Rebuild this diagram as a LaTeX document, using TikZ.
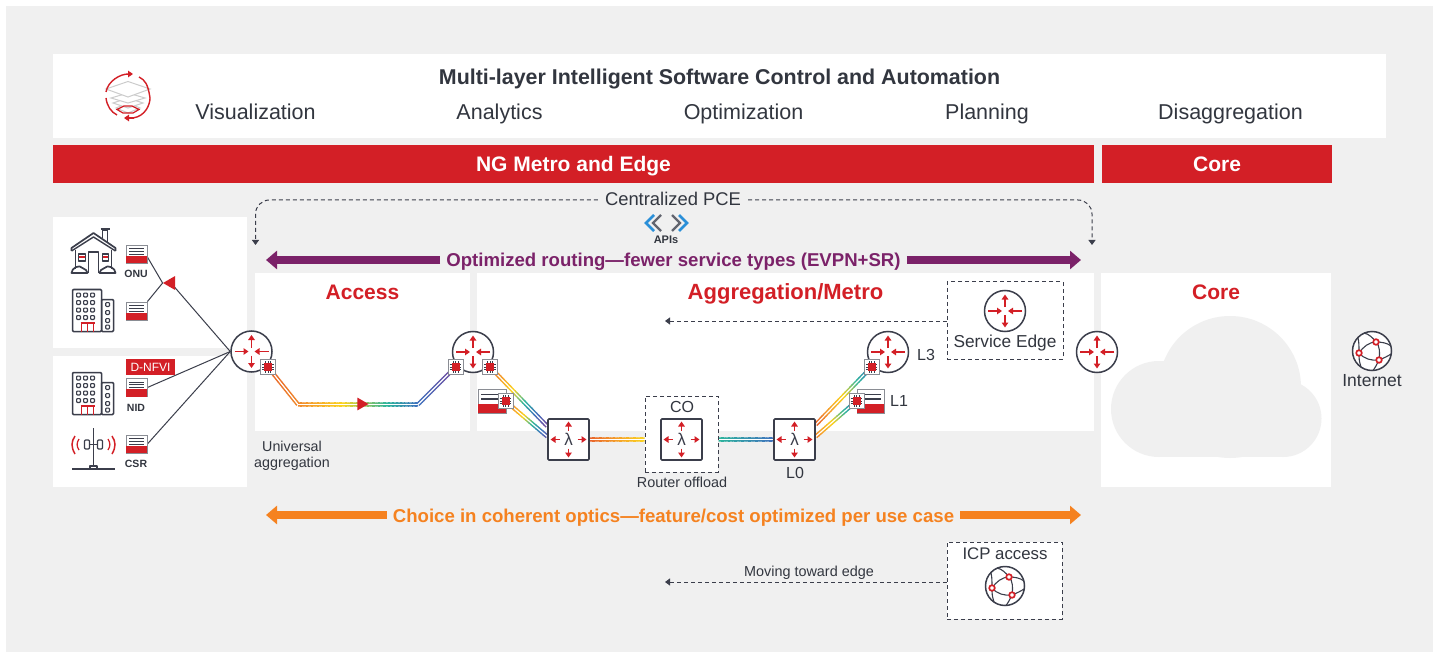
\documentclass[tikz,border=0pt]{standalone}
\usepackage{fontspec}
\setmainfont{Liberation Sans}
\usetikzlibrary{arrows.meta,calc,shapes.geometric}
\definecolor{bgG}{HTML}{F0F0F0}
\definecolor{redC}{HTML}{D31F26}
\definecolor{darkC}{HTML}{3B3E4B}
\definecolor{txtC}{HTML}{32363F}
\definecolor{purpC}{HTML}{7B2269}
\definecolor{orC}{HTML}{F58220}
\definecolor{bluC}{HTML}{2A8FD8}
\definecolor{cardG}{HTML}{8A8D94}
\definecolor{rb0}{HTML}{E8622A}
\definecolor{rb1}{HTML}{F5A02A}
\definecolor{rb2}{HTML}{FBD31E}
\definecolor{rb3}{HTML}{2DB59C}
\definecolor{rb4}{HTML}{3F72BE}
\definecolor{rb5}{HTML}{74489E}
\definecolor{rb6}{HTML}{74489E}
\pgfdeclarelayer{panel}\pgfdeclarelayer{wire}
\pgfsetlayers{panel,wire,main}
\tikzset{
 panelbox/.style={fill=white,draw=none,inner sep=0,rectangle},
 redbar/.style={fill=redC,draw=none,inner sep=0},
 routerc/.style={circle,draw=darkC,line width=1.5,fill=white,minimum size=41,inner sep=0},
 lambox/.style={rectangle,rounded corners=1,draw=darkC,line width=1.6,fill=white,minimum size=41,inner sep=0,font=\fontsize{17}{20}\selectfont,text=darkC},
 chipbox/.style={rectangle,draw=cardG,line width=1,fill=white,minimum size=15,inner sep=0},
 cardbox/.style={rectangle,draw=cardG,line width=0.8,fill=white,inner sep=0},
 dashbox/.style={rectangle,draw=darkC,line width=1,dash pattern=on 4pt off 3pt,fill=white,inner sep=0},
 lbl/.style={text=txtC,inner sep=0,align=center},
 lblb/.style={text=txtC,inner sep=0,anchor=base},
 rarrow/.style={redC,line width=1.8,-{Triangle[length=5,width=6.5]}},
 thin wire/.style={darkC,line width=1},
 dasharrow/.style={darkC,line width=1,dash pattern=on 4pt off 3pt,-{Triangle[length=5,width=7]}},
 fatarrow/.style={line width=8,-{Triangle[length=11,width=18]}},
 ic/.style={darkC,line width=1.3,line join=round},
}
\newcommand{\routerat}[3]{%
 \node[routerc] (#1) at (#2,#3) {};
 \begin{scope}[shift={(#2,#3)}]
  \draw[rarrow] (0,-4)--(0,-16.5); \draw[rarrow] (0,4)--(0,16.5);
  \draw[rarrow] (-17,0)--(-3,0); \draw[rarrow] (17,0)--(3,0);
 \end{scope}}
\newcommand{\lamat}[3]{%
 \node[lambox] (#1) at (#2,#3) {λ};
 \begin{scope}[shift={(#2,#3)}]
  \draw[rarrow] (0,-9)--(0,-18); \draw[rarrow] (0,9)--(0,18);
  \draw[rarrow] (-9,0)--(-18,0); \draw[rarrow] (9,0)--(18,0);
 \end{scope}}
\newcommand{\chipat}[3]{%
 \node[chipbox] (#1) at (#2,#3) {};
 \begin{scope}[shift={(#2,#3)}]
  \foreach \k in {-2.6,0,2.6}{
   \draw[darkC,line width=0.6] (-5.8,\k)--(5.8,\k);
   \draw[darkC,line width=0.6] (\k,-5.8)--(\k,5.8);}
  \fill[redC] (-4,-4) rectangle (4,4);
 \end{scope}}
\newcommand{\cardat}[5]{%
 \node[cardbox,minimum width=#4,minimum height=#5] (#1) at (#2,#3) {};
 \begin{scope}[shift={(#2,#3)}]
  \fill[redC] (-#4/2,0.1*#5) rectangle (#4/2,#5/2);
  \draw[darkC,line width=0.8] (-#4/2+3,-#5/2+3.5)--(#4/2-3,-#5/2+3.5);
  \draw[darkC,line width=0.8] (-#4/2+3,-#5/2+6.2)--(#4/2-3,-#5/2+6.2);
  \draw[darkC,line width=0.8] (-#4/2+3,-#5/2+9)--(#4/2-3,-#5/2+9);
 \end{scope}}
\newcommand{\bigcardat}[5]{%
 \node[cardbox,line width=1,minimum width=#4,minimum height=#5] (#1) at (#2,#3) {};
 \begin{scope}[shift={(#2,#3)}]
  \fill[redC] (-#4/2,0.13*#5) rectangle (#4/2,#5/2);
  \draw[darkC,line width=1.5] (-#4/2+3,-#5/2+5.5)--(#4/2-3,-#5/2+5.5);
  \draw[darkC,line width=1.5] (-#4/2+3,-#5/2+10)--(#4/2-3,-#5/2+10);
 \end{scope}}
\newcommand{\bldgat}[2]{%
 \begin{scope}[shift={(#1,#2)}]
  \draw[ic,line width=1.5,rounded corners=1] (0,0) rectangle (29,42);
  \draw[ic,line width=1.5,rounded corners=1] (29,10) rectangle (41,42);
  \foreach \yy in {5.5,13,20.5,28}{\foreach \xx in {6,13,20}{
    \draw[ic,line width=1.2,rounded corners=0.8] (\xx-1.9,\yy-1.9) rectangle (\xx+1.9,\yy+1.9);}}
  \foreach \yy in {15,23,31,37.5}{\draw[ic,line width=1.2,rounded corners=0.8] (33.2,\yy-1.9) rectangle (37,\yy+1.9);}
  \draw[redC,line width=1.2] (8,33.5)--(22,33.5);
  \foreach \xx in {9,15,21}{\draw[redC,line width=1.2] (\xx,33.5)--(\xx,42);}
 \end{scope}}
\newcommand{\globeat}[3]{%
 \node[circle,draw=darkC,line width=1.5,fill=white,minimum size=39,inner sep=0] (#1) at (#2,#3) {};
 \begin{scope}[shift={(#2,#3)}]
  \draw[ic,line width=1.1] (4,-9) .. controls (-3,-9) and (-9,-4) .. (-13,2);
  \draw[ic,line width=1.1] (-13,2) .. controls (-8,8) and (0,10) .. (7,9);
  \draw[ic,line width=1.1] (4,-9) .. controls (8,-5) and (8,2) .. (7,9);
  \draw[ic,line width=1.1] (4,-9) .. controls (10,-9) and (15,-8) .. (19,-5);
  \draw[ic,line width=1.1] (4,-9) .. controls (1,-13) and (-3,-17) .. (-8,-18);
  \draw[ic,line width=1.1] (-13,2) .. controls (-13,-5) and (-13,-9) .. (-14,-13);
  \draw[ic,line width=1.1] (-13,2) .. controls (-13,7) and (-13,10) .. (-11,16);
  \draw[ic,line width=1.1] (7,9) .. controls (12,7) and (16,5) .. (19,3);
  \draw[ic,line width=1.1] (7,9) .. controls (5,13) and (3,17) .. (1,19.5);
  \foreach \p in {(4,-9),(-13,2),(7,9)}{\draw[redC,fill=white,line width=1.7] \p circle [radius=2.8];}
 \end{scope}}
% rainbow double wire: from, to, start stop, end stop (stops 0..5)
\newcommand{\rbline}[4]{%
 \begin{pgfonlayer}{wire}
 \foreach \i in {0,...,23}{
  \pgfmathsetmacro\ha{\i/24}
  \pgfmathsetmacro\hb{min(1,(\i+1.25)/24)}
  \pgfmathsetmacro\hh{#3+(#4-#3)*(\i+.5)/24}
  \pgfmathtruncatemacro\ka{floor(\hh)}
  \pgfmathtruncatemacro\kb{\ka+1}
  \pgfmathsetmacro\fr{100*(\ka+1-\hh)}
  \colorlet{rbc}{rb\ka!\fr!rb\kb}
  \draw[rbc,line width=4.2] ($(#1)!\ha!(#2)$) -- ($(#1)!\hb!(#2)$);
 }
 \draw[white,line width=1.2] (#1)--(#2);
 \end{pgfonlayer}}
\begin{document}
\begin{tikzpicture}[x=1pt,y=-1pt]
\useasboundingbox (0,0) rectangle (1437,652);
\begin{pgfonlayer}{panel}
\fill[bgG] (6,6) rectangle (1433,652);
\node[panelbox,minimum width=1333,minimum height=84] (top) at (719.5,96) {};
\node[panelbox,minimum width=194,minimum height=131] (p1) at (150,282.5) {};
\node[panelbox,minimum width=194,minimum height=131] (p2) at (150,421.5) {};
\node[panelbox,minimum width=215,minimum height=158] (access) at (362.5,352) {};
\node[panelbox,minimum width=617,minimum height=158] (agg) at (785.5,352) {};
\node[panelbox,minimum width=230,minimum height=214] (corep) at (1216,380) {};
% cloud
\fill[bgG] (1159,409) circle [radius=48];
\fill[bgG] (1230,387) circle [radius=71];
\fill[bgG] (1283,418.5) circle [radius=38.5];
\fill[bgG] (1159,395) rectangle (1283,457);
\end{pgfonlayer}
% top band
\node[redbar,minimum width=1041,minimum height=38] (metrobar) at (573.5,164) {};
\node[lblb,text=white,font=\fontsize{21}{25}\selectfont\bfseries] (metrot) at (573.5,172) {NG Metro and Edge};
\node[redbar,minimum width=230,minimum height=38] (corebar) at (1217,164) {};
\node[lblb,text=white,font=\fontsize{21}{25}\selectfont\bfseries] (coret) at (1217,172) {Core};
\node[lblb,font=\fontsize{21.4}{25}\selectfont\bfseries] (title) at (719.5,85) {Multi-layer Intelligent Software Control and Automation};
\foreach \nm/\xx/\tx in {v/255.5/Visualization,an/499.5/Analytics,op/743.5/Optimization,pl/987/Planning,di/1230.5/Disaggregation}{
 \node[lblb,font=\fontsize{21.5}{25}\selectfont] (\nm) at (\xx,120) {\tx};}
% top icon
\node[circle,minimum size=44,inner sep=0] (topicon) at (128,96) {};
\begin{scope}[shift={(128,96)}]
 \foreach \yy/\w in {12/12,7/15,2/17}{\draw[gray!40,line width=1,fill=white] (-\w,\yy) -- (0,\yy-5) -- (\w,\yy) -- (0,\yy+5) -- cycle;}
 \draw[gray!40,line width=1,fill=white] (-22,-7) -- (0,-14.5) -- (22,-7) -- (0,1) -- cycle;
 \draw[redC,line width=1.2] (-11,13.5) -- (-4,10) -- (4,10) -- (11,13.5) -- (5,17) -- (-5,17) -- cycle;
\end{scope}
\draw[redC,line width=1.4,-{Triangle[length=5,width=6.5]}] (106,92) .. controls (108,81) and (120,74) .. (133,74);
\draw[redC,line width=1.4] (139,77) .. controls (145,80) and (148,84) .. (150,98) .. controls (150,104) and (146,116) .. (133,118);
\draw[redC,line width=1.4,-{Triangle[length=5,width=6.5]}] (134,118) -- (124,118);
\draw[redC,line width=1.4] (117,115) .. controls (111,112) and (107,106) .. (106,98);
% PCE
\node[lblb,font=\fontsize{18.4}{22}\selectfont] (pce) at (673,206) {Centralized PCE};
\coordinate (pceL) at (255.5,245); \coordinate (pceLc) at (255.5,200);
\coordinate (pceR) at (1092,245); \coordinate (pceRc) at (1092,200);
\draw[dasharrow,rounded corners=14] ([xshift=-7]pce.west |- pceLc) -- (pceLc) -- (pceL);
\draw[dasharrow,rounded corners=14] ([xshift=7]pce.east |- pceRc) -- (pceRc) -- (pceR);
% APIs
\coordinate (chevL) at (654,223); \coordinate (chevR) at (679,223);
\draw[bluC,line width=2.6] ($(chevL)+(0,-8)$) -- ($(chevL)+(-8,0)$) -- ($(chevL)+(0,8)$);
\draw[darkC!80,line width=2.4] ($(chevL)+(7,-8)$) -- ($(chevL)+(-1,0)$) -- ($(chevL)+(7,8)$);
\draw[darkC!80,line width=2.4] ($(chevR)+(-7,-8)$) -- ($(chevR)+(1,0)$) -- ($(chevR)+(-7,8)$);
\draw[bluC,line width=2.6] ($(chevR)+(0,-8)$) -- ($(chevR)+(8,0)$) -- ($(chevR)+(0,8)$);
\node[lblb,font=\fontsize{11}{13}\selectfont\bfseries] (apis) at (666,244) {APIs};
% purple arrow
\node[lblb,text=purpC,font=\fontsize{18.6}{22}\selectfont\bfseries] (opt) at (673.5,266) {Optimized routing—fewer service types (EVPN+SR)};
\coordinate (pL) at (266,260); \coordinate (pR) at (1081,260);
\draw[purpC,fatarrow] (opt.west |- pL) ++(-6,0) -- (pL);
\draw[purpC,fatarrow] (opt.east |- pR) ++(6,0) -- (pR);
% orange arrow
\node[lblb,text=orC,font=\fontsize{18.6}{22}\selectfont\bfseries] (coh) at (673.5,522) {Choice in coherent optics—feature/cost optimized per use case};
\coordinate (oL) at (266,515); \coordinate (oR) at (1081,515);
\draw[orC,fatarrow] (coh.west |- oL) ++(-6,0) -- (oL);
\draw[orC,fatarrow] (coh.east |- oR) ++(6,0) -- (oR);
% titles
\node[lblb,text=redC,font=\fontsize{21}{25}\selectfont\bfseries] (t1) at (362.5,299) {Access};
\node[lblb,text=redC,font=\fontsize{22}{25}\selectfont\bfseries] (t2) at (785.5,299) {Aggregation/Metro};
\node[lblb,text=redC,font=\fontsize{21}{25}\selectfont\bfseries] (t3) at (1216,299) {Core};
% routers etc.
\routerat{r1}{251.5}{351.5}
\routerat{r2}{473}{352}
\routerat{r3}{888}{352}
\routerat{r4}{1097}{352}
\chipat{c1}{268}{367}
\chipat{c2}{455.5}{367}
\chipat{c3}{490}{367}
\chipat{c5}{871.5}{367}
\bigcardat{cd1}{492}{401}{28}{24}
\chipat{c4}{505.5}{401}
\bigcardat{cd2}{870.5}{401}{27}{24}
\chipat{c6}{856.5}{401}
\lamat{l1}{568.5}{439.5}
\node[dashbox,minimum width=73,minimum height=76] (co) at (681.5,434) {};
\lamat{l2}{681.5}{439.5}
\lamat{l3}{794.5}{439.5}
\node[lblb,font=\fontsize{16}{19}\selectfont] (cot) at (682,412) {CO};
\node[lblb,font=\fontsize{14.4}{17}\selectfont] (rof) at (682,487) {Router offload};
\node[lblb,font=\fontsize{16}{19}\selectfont] (l0t) at (795,478.5) {L0};
\node[lblb,font=\fontsize{16}{19}\selectfont] (l3t) at (926,360) {L3};
\node[lblb,font=\fontsize{16}{19}\selectfont] (l1t) at (899,406) {L1};
\node[lbl,font=\fontsize{14.3}{16.5}\selectfont] (ua) at (292,456) {Universal\\aggregation};
% rainbow wires
\coordinate (b1) at (298,404.5); \coordinate (b2) at (418,404.5);
\coordinate (m1) at (343,404.5); \coordinate (m2) at (387,404.5);
\rbline{c1.center}{b1}{0}{0.6}
\rbline{b1}{m1}{0.6}{2}
\rbline{m1}{m2}{2}{3}
\rbline{m2}{b2}{3}{4}
\rbline{b2}{c2.center}{4}{5}
\rbline{c3.center}{l1.148}{0}{5}
\rbline{c4.center}{l1.172}{0}{4.6}
\rbline{l1.0}{co.west |- l1.0}{0}{2}
\rbline{co.east |- l2.0}{l3.180}{3}{4}
\rbline{l3.35}{c5.center}{0}{4}
\rbline{l3.8}{c6.center}{0.6}{4}
\node[regular polygon,regular polygon sides=3,shape border rotate=-90,fill=redC,inner sep=0,minimum size=15] (tri2) at (361,404) {};
% service edge
\node[dashbox,minimum width=116,minimum height=77] (se) at (1005,320.5) {};
\routerat{r5}{1005}{311}
\node[lblb,font=\fontsize{17.3}{20}\selectfont] (set) at (1005,347) {Service Edge};
\coordinate (seE) at (665,321);
\draw[dasharrow] (se.west |- seE) -- (seE);
% ICP
\node[dashbox,minimum width=115,minimum height=77] (icp) at (1004.5,580.5) {};
\node[lblb,font=\fontsize{16.8}{20}\selectfont] (icpt) at (1005,559) {ICP access};
\globeat{g1}{1005}{586}
\coordinate (icE) at (665,582);
\draw[dasharrow] (icp.west |- icE) -- (icE);
\node[lblb,font=\fontsize{14.4}{17}\selectfont] (mv) at (809,576) {Moving toward edge};
% internet
\globeat{g2}{1372}{351}
\node[lblb,font=\fontsize{17.5}{21}\selectfont] (inet) at (1372,386.7) {Internet};
% left side
\cardat{cA}{136.5}{254}{21}{18}
\cardat{cB}{136.5}{311}{21}{18}
\cardat{cC}{136.5}{387.5}{21}{18}
\cardat{cD}{136.5}{444}{21}{18}
\node[lblb,font=\fontsize{10.5}{13}\selectfont\bfseries] (onu) at (136,277) {ONU};
\node[lblb,font=\fontsize{10.5}{13}\selectfont\bfseries] (nid) at (136,411) {NID};
\node[lblb,font=\fontsize{10.5}{13}\selectfont\bfseries] (csr) at (136,467) {CSR};
\node[fill=redC,text=white,inner sep=0,minimum width=49,minimum height=16,font=\fontsize{12}{14}\selectfont] (dn) at (150.5,367) {D-NFVI};
\node[regular polygon,regular polygon sides=3,shape border rotate=90,fill=redC,inner sep=0,minimum size=16] (tri1) at (171,283) {};
\begin{pgfonlayer}{wire}
\draw[thin wire] (cA.east) ++(0,3) -- (tri1.west);
\draw[thin wire] (cB.north east) -- (tri1.west);
\draw[thin wire] (tri1.center) -- (r1.180);
\draw[thin wire] (cC.east) -- (r1.180);
\draw[thin wire] (cD.east) -- (r1.180);
\end{pgfonlayer}
\bldgat{72.5}{289.5}
\bldgat{72.5}{372.5}
% house
\begin{scope}[shift={(71.5,231)}]
 \draw[ic,line width=1.7] (0,20) -- (0,17) -- (22,2) -- (44,17) -- (44,20);
 \draw[ic,line width=1.4] (0,20) -- (22,6) -- (44,20);
 \draw[ic] (4,19) -- (4,38); \draw[ic] (40,19) -- (40,38);
 \draw[ic] (31,7) -- (31,-1) -- (36,-1) -- (36,12);
 \draw[ic] (29,-2) -- (38,-2);
 \draw[ic] (17,42) -- (17,21) -- (27,21) -- (27,42);
 \draw[ic] (7,23) rectangle (14,30); \draw[ic] (31,23) rectangle (37,30);
 \fill[redC] (7.5,25.5) rectangle (13.5,27.5); \fill[redC] (31.5,25.5) rectangle (36.5,27.5);
 \draw[ic,line width=1.7] (0,42) .. controls (0,37) and (8,33) .. (11,37) .. controls (14,38) and (16,40) .. (16,42) -- cycle;
 \draw[ic,line width=1.7] (44,42) .. controls (44,37) and (36,33) .. (33,37) .. controls (30,38) and (28,40) .. (28,42) -- cycle;
\end{scope}
% antenna
\begin{scope}[shift={(93.5,449)}]
 \draw[ic,line width=1.5] (0,-21) -- (0,20);
 \draw[ic,line width=1.5] (-21.5,20) -- (21.5,20);
 \draw[ic,fill=white,line width=1.1] (-3.5,17) rectangle (3.5,20);
 \draw[ic,fill=white,line width=1.2,rounded corners=1] (-9,-9) rectangle (-4,0);
 \draw[ic,fill=white,line width=1.2,rounded corners=1] (4,-9) rectangle (9,0);
 \draw[ic,line width=1.2] (-4,-4.5) -- (4,-4.5);
 \draw[redC,line width=1.3] (-14.5,-10) .. controls (-17,-6) and (-17,-3) .. (-14.5,1);
 \draw[redC,line width=1.3] (14.5,-10) .. controls (17,-6) and (17,-3) .. (14.5,1);
 \draw[redC,line width=1.5] (-18.5,-13) .. controls (-22.5,-7) and (-22.5,-2) .. (-18.5,5);
 \draw[redC,line width=1.5] (18.5,-13) .. controls (22.5,-7) and (22.5,-2) .. (18.5,5);
\end{scope}
\end{tikzpicture}
\end{document}
